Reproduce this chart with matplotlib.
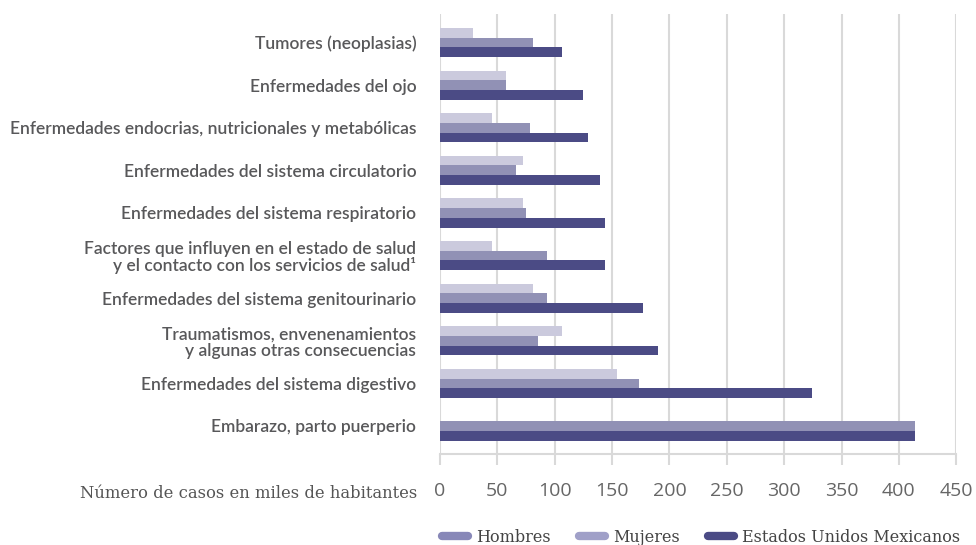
import matplotlib
matplotlib.use("Agg")
import matplotlib.pyplot as plt
from matplotlib.lines import Line2D
import numpy as np

categories = [
    "Tumores (neoplasias)",
    "Enfermedades del ojo",
    "Enfermedades endocrias, nutricionales y metabólicas",
    "Enfermedades del sistema circulatorio",
    "Enfermedades del sistema respiratorio",
    "Factores que influyen en el estado de salud\ny el contacto con los servicios de salud\u00b9",
    "Enfermedades del sistema genitourinario",
    "Traumatismos, envenenamientos\ny algunas otras consecuencias",
    "Enfermedades del sistema digestivo",
    "Embarazo, parto puerperio",
]
hombres = [28.5, 57.8, 45.3, 72.6, 72.3, 45.3, 80.7, 106, 154.2, 0]
mujeres = [80.7, 57.8, 78.7, 66.2, 75, 93.5, 93.5, 85.1, 173.1, 413.8]
nacional = [106, 124.8, 129.2, 139.4, 143.7, 143.7, 177, 189.6, 324, 413.8]
xticks = [0, 50, 100, 150, 200, 250, 300, 350, 400, 450]

c_light = "#cbcadd"
c_mid = "#9191b5"
c_dark = "#4b4b85"
grid_c = "#d9d9d9"
text_c = "#58585a"

fig = plt.figure(figsize=(9.76, 5.45), dpi=100)
ax = fig.add_axes([0.4508, 0.167, 0.529, 0.8073])

y = np.arange(len(categories))
h = 0.228
ax.barh(y - h, hombres, height=h, color=c_light, zorder=3)
ax.barh(y, mujeres, height=h, color=c_mid, zorder=3)
ax.barh(y + h, nacional, height=h, color=c_dark, zorder=3)

ax.set_xlim(0, 450)
ax.set_ylim(9.657, -0.669)
ax.set_xticks(xticks)
ax.set_xticklabels([str(t) for t in xticks], family=["Open Sans", "DejaVu Sans"],
                   fontsize=14, color="#666666")
ax.set_yticks(y)
ax.set_yticklabels(categories, family=["Lato", "DejaVu Sans"], fontsize=12.5,
                   fontweight="semibold", color=text_c, linespacing=1.05)
ax.tick_params(axis="y", length=0, pad=17)
ax.tick_params(axis="x", length=8, width=1.5, color=grid_c, pad=12)
ax.xaxis.grid(True, color=grid_c, linewidth=1.5, zorder=0)
for s in ["top", "right", "left"]:
    ax.spines[s].set_visible(False)
ax.spines["bottom"].set_color(grid_c)
ax.spines["bottom"].set_linewidth(1.5)

fig.text(417 / 976, 1 - 494 / 545, "Número de casos en miles de habitantes",
         ha="right", va="center", family=["DejaVu Serif"], fontsize=11.8,
         color="#555555")

handles = [
    Line2D([0], [0], color="#8888b8", lw=6, solid_capstyle="round"),
    Line2D([0], [0], color="#a0a0c8", lw=6, solid_capstyle="round"),
    Line2D([0], [0], color=c_dark, lw=6, solid_capstyle="round"),
]
fig.legend(handles, ["Hombres", "Mujeres", "Estados Unidos Mexicanos"],
           loc="center", bbox_to_anchor=(0.7185, 1 - 537 / 545), ncol=3,
           frameon=False, prop={"family": "DejaVu Serif", "size": 11.5},
           labelcolor="#444444", handlelength=1.6, handletextpad=0.5,
           columnspacing=1.8, borderpad=0)

fig.savefig("out.png", dpi=100)
